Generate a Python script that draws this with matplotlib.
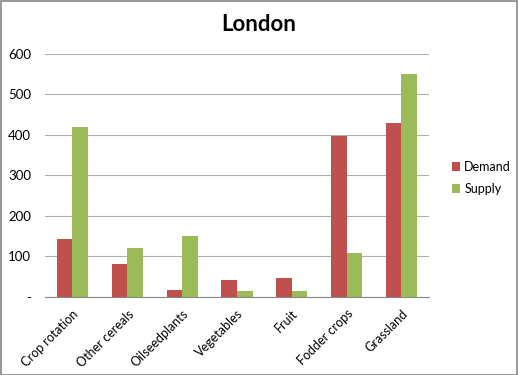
import matplotlib.pyplot as plt
import numpy as np
from matplotlib.patches import Rectangle
from matplotlib.ticker import FuncFormatter

plt.rcParams['font.family'] = ['Lato', 'DejaVu Sans']

categories = ['Crop rotation', 'Other cereals', 'Oilseedplants', 'Vegetables',
              'Fruit', 'Fodder crops', 'Grassland']
demand = [142, 81, 16, 40, 45, 398, 429]
supply = [419, 120, 149, 15, 14, 107, 551]

fig = plt.figure(figsize=(5.18, 3.75), dpi=100)
ax = fig.add_axes([0.087, 0.209, 0.741, 0.647])

x = np.arange(len(categories))
w = 0.285
ax.bar(x - w / 2, demand, w, color='#C0504D', label='Demand', zorder=3)
ax.bar(x + w / 2, supply, w, color='#9BBB59', label='Supply', zorder=3)

ax.set_xlim(-0.5, len(categories) - 0.5)
ax.set_ylim(0, 600)
ax.set_yticks(range(0, 601, 100))
ax.yaxis.set_major_formatter(FuncFormatter(lambda v, p: '-' if v == 0 else f'{int(v)}'))
ax.grid(axis='y', color='#B0B0B0', linewidth=0.8, zorder=0)
ax.set_xticks(x)
ax.set_xticklabels(categories, rotation=45, ha='right', rotation_mode='anchor')
ax.tick_params(axis='y', length=0, labelsize=9.5, colors='#000000', pad=10)
ax.tick_params(axis='x', length=0, labelsize=9, colors='#000000', pad=8)
for s in ['top', 'right', 'left']:
    ax.spines[s].set_visible(False)
ax.spines['bottom'].set_color('#868686')

fig.text(0.5, 0.935, 'London', fontsize=16, fontweight='bold', ha='center', va='center')

ax.legend(loc='center left', bbox_to_anchor=(1.03, 0.49), frameon=False,
          fontsize=9, handlelength=0.7, handleheight=0.7, handletextpad=0.3,
          labelspacing=0.8)

fig.patches.append(Rectangle((0.001, 0.001), 0.997, 0.996, transform=fig.transFigure,
                             fill=False, edgecolor='#868686', linewidth=1.2))

plt.savefig('out.png', dpi=100)
plt.close()
